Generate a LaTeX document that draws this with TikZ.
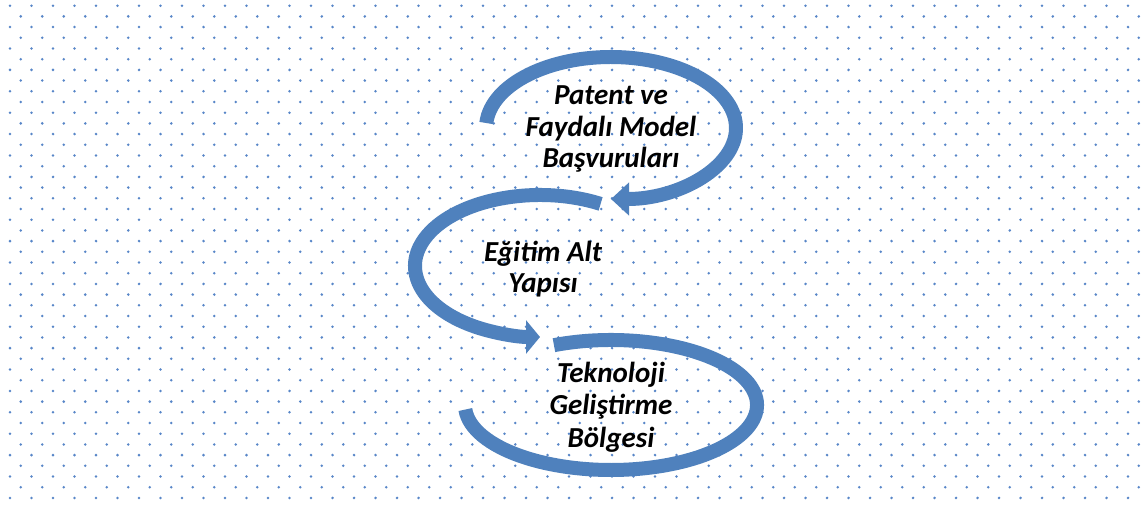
\documentclass[tikz,border=0pt]{standalone}
\usepackage{fontspec}
\setmainfont{Carlito}
\usetikzlibrary{arrows.meta}
\definecolor{flowblue}{RGB}{79,129,189}
\definecolor{dotblue}{RGB}{88,134,200}
\tikzset{
  flow/.style={draw=flowblue, line width=14pt, line cap=butt},
  label/.style={font=\fontsize{29}{31.5}\selectfont\bfseries\itshape, align=center, text=black, inner sep=0pt}
}
\begin{document}
\begin{tikzpicture}[x=1pt,y=1pt]
  \useasboundingbox (0,0) rectangle (1148,507);
  \fill[white] (0,0) rectangle (1148,507);
  % dotted background grid, alternate rows shifted by half a step
  \begin{scope}
    \clip (0,0) rectangle (1148,507);
    \foreach \j in {0,...,46}{
      \pgfmathsetmacro\yy{501.3-10.7*\j}
      \pgfmathsetmacro\xo{mod(\j,2)==0 ? 10 : 20.75}
      \foreach \i in {0,...,53}{
        \fill[dotblue] (\xo+21.5*\i,\yy) circle (1.4);
      }
    }
  \end{scope}
  % three elliptical flow arrows
  \draw[flow, -{Triangle[width=32pt,length=18pt]}]
    (611,379) ++(176:125 and 71) arc[start angle=176, end angle=-90, x radius=125, y radius=71];
  \draw[flow, -{Triangle[width=33pt,length=14pt]}]
    (540,241) ++(61:125 and 71) arc[start angle=61, end angle=270, x radius=125, y radius=71];
  \draw[flow]
    (611,102) ++(113:146 and 65) arc[start angle=113, end angle=-176, x radius=146, y radius=65];
  % labels
  \node[label] (t1) at (611,378) {Patent ve\\Faydalı Model\\Başvuruları};
  \node[label] (t2) at (543,238) {Eğitim Alt\\Yapısı};
  \node[label, font=\fontsize{29}{32.5}\selectfont\bfseries\itshape] (t3) at (611,100) {Teknoloji\\Geliştirme\\Bölgesi};
\end{tikzpicture}
\end{document}
